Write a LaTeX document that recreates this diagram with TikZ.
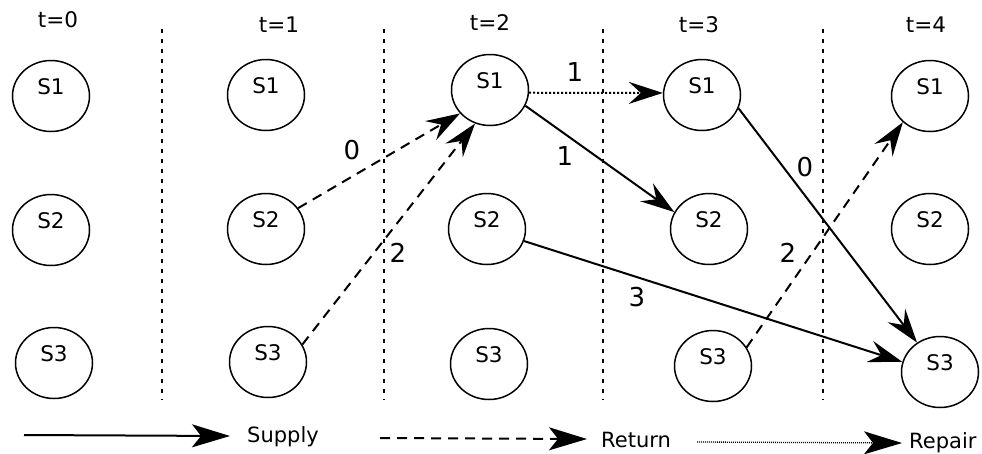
\documentclass[tikz,border=0pt]{standalone}
\usepackage{fontspec}
\setmainfont{DejaVu Sans}
\usetikzlibrary{shapes.geometric,arrows.meta}
\begin{document}
\begin{tikzpicture}[x=1pt,y=-1pt,
  state/.style={ellipse,draw,line width=1.5pt,minimum width=77pt,minimum height=71pt,inner sep=0pt},
  tlab/.style={font=\fontsize{21.5}{21.5}\selectfont,inner sep=0pt},
  elab/.style={font=\fontsize{26}{26}\selectfont,inner sep=0pt},
  leg/.style={font=\fontsize{21}{21}\selectfont,inner sep=0pt},
  sep/.style={line width=2pt,dash pattern=on 4pt off 6pt},
  arr/.style={-{Stealth[length=34pt,width=22pt,inset=12pt]},line width=2pt},
  supply/.style={arr},
  ret/.style={arr,dash pattern=on 10pt off 7pt},
  rep/.style={arr,dash pattern=on 2pt off 2pt},
]
\useasboundingbox (0,0) rectangle (982,453);
\newcommand{\st}[3]{\node[state,label={[yshift=9pt,font=\fontsize{21.5}{21.5}\selectfont]center:#3}] (#1) at #2 {};}
% time labels
\node[tlab] (t0) at (58,20) {t=0};
\node[tlab] (t1) at (279,25) {t=1};
\node[tlab] (t2) at (490,23) {t=2};
\node[tlab] (t3) at (699,25) {t=3};
\node[tlab] (t4) at (926,25) {t=4};
% separators
\coordinate (s1a) at (162,29); \coordinate (s1b) at (162,400);
\coordinate (s2a) at (384,29); \coordinate (s2b) at (384,400);
\coordinate (s3a) at (603,29); \coordinate (s3b) at (603,400);
\coordinate (s4a) at (823,29); \coordinate (s4b) at (823,400);
\draw[sep] (s1a) -- (s1b);
\draw[sep] (s2a) -- (s2b);
\draw[sep] (s3a) -- (s3b);
\draw[sep] (s4a) -- (s4b);
% states
\st{a0}{(51,96)}{S1}
\st{b0}{(51,230)}{S2}
\st{c0}{(54,363)}{S3}
\st{a1}{(266,95)}{S1}
\st{b1}{(266,229)}{S2}
\st{c1}{(268,362)}{S3}
\st{a2}{(490,90)}{S1}
\st{b2}{(487,229)}{S2}
\st{c2}{(489,364)}{S3}
\st{a3}{(702,95)}{S1}
\st{b3}{(709,229)}{S2}
\st{c3}{(713,366)}{S3}
\st{a4}{(930,96)}{S1}
\st{b4}{(930,229)}{S2}
\st{c4}{(940,372)}{S3}
% edges
\draw[ret] (b1.33) -- (a2.218);
\draw[ret] (c1.27) -- (a2.246);
\draw[rep] (a2.356) -- (a3.177);
\draw[supply] (a2.336) -- (b3.154);
\draw[supply] (b2.342) -- (c4.165);
\draw[supply] (a3.340) -- (c4.128);
\draw[ret] (c3.29) -- (a4.224);
% edge labels
\node[elab] (l1) at (352,150) {0};
\node[elab] (l2) at (398,253) {2};
\node[elab] (l3) at (575,72) {1};
\node[elab] (l4) at (565,156) {1};
\node[elab] (l5) at (637,297) {3};
\node[elab] (l6) at (805,167) {0};
\node[elab] (l7) at (788,253) {2};
% legend
\coordinate (ls0) at (24,435); \coordinate (ls1) at (230,436);
\coordinate (lr0) at (380,438); \coordinate (lr1) at (587,439);
\coordinate (lp0) at (697,442); \coordinate (lp1) at (902,443);
\draw[-{Stealth[length=38pt,width=23pt,inset=9pt]},line width=2pt] (ls0) -- (ls1);
\draw[-{Stealth[length=38pt,width=23pt,inset=9pt]},line width=2pt,dash pattern=on 10pt off 7pt] (lr0) -- (lr1);
\draw[-{Stealth[length=38pt,width=23pt,inset=9pt]},line width=1.3pt,dash pattern=on 1pt off 1pt] (lp0) -- (lp1);
\node[leg,anchor=west] (lsupply) at (247,437) {Supply};
\node[leg,anchor=west] (lreturn) at (601,440) {Return};
\node[leg,anchor=west] (lrepair) at (909,443) {Repair};
\end{tikzpicture}
\end{document}
